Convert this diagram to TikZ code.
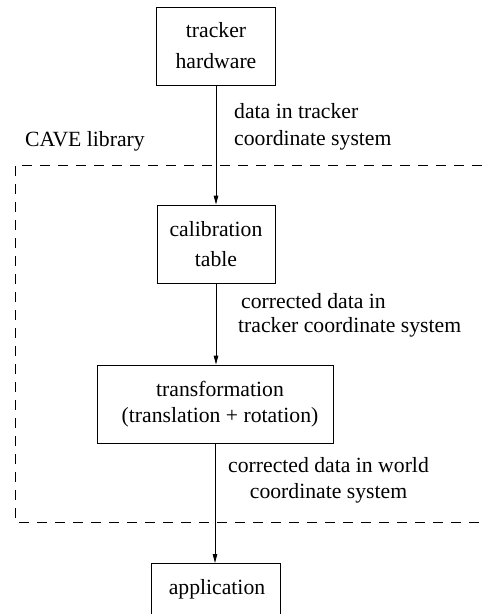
\documentclass[tikz,border=0pt]{standalone}
\usepackage{fontspec}
\setmainfont{Liberation Serif}
\usetikzlibrary{arrows.meta}
\begin{document}
\begin{tikzpicture}[x=1pt,y=-1pt,
  box/.style={draw, line width=0.9pt, inner sep=0pt, align=center, minimum height=78pt},
  lbl/.style={inner sep=0pt},
  arr/.style={line width=0.9pt, -{Triangle[length=9pt,width=4.5pt]}},
  cavebox/.style={line width=0.9pt, dash pattern=on 10pt off 8pt}]
\useasboundingbox (0,0) rectangle (487,614);
\clip (0,0) rectangle (487,614);
\draw[cavebox] (500,165) -- (15,165) -- (15,522) -- (500,522);
\node[box, minimum width=119pt, font=\fontsize{21.7}{31}\selectfont] (tr) at (216,46) {tracker\\hardware};
\node[box, minimum width=118pt, font=\fontsize{21.7}{30}\selectfont] (cal) at (216,244) {calibration\\table};
\node[box, minimum width=236pt, font=\fontsize{21.7}{26}\selectfont] (tf) at (215,404) {\hspace*{10pt}transformation\\\hspace*{10pt}(translation + rotation)};
\node[box, minimum width=129pt, anchor=north, text depth=30pt, font=\fontsize{21.7}{26}\selectfont] (app) at (215.5,563) {\hspace*{3pt}application};
\node[lbl, anchor=base west, font=\fontsize{21.7}{26}\selectfont] (cave) at (25,146) {CAVE library};
\node[lbl, anchor=west, align=left, font=\fontsize{21.7}{27}\selectfont] (l1) at (234,127) {data in tracker\\coordinate system};
\node[lbl, anchor=west, align=left, font=\fontsize{21.7}{24}\selectfont] (l2) at (238,315) {\hspace*{3pt}corrected data in\\tracker coordinate system};
\node[lbl, anchor=west, align=center, font=\fontsize{21.7}{26}\selectfont] (l3) at (228,480) {corrected data in world\\coordinate system};
\draw[arr] (tr.south) -- (tr.south |- cal.north);
\draw[arr] (cal.south) -- (cal.south |- tf.north);
\draw[arr] (tf.south) -- (tf.south |- app.north);
\end{tikzpicture}
\end{document}
